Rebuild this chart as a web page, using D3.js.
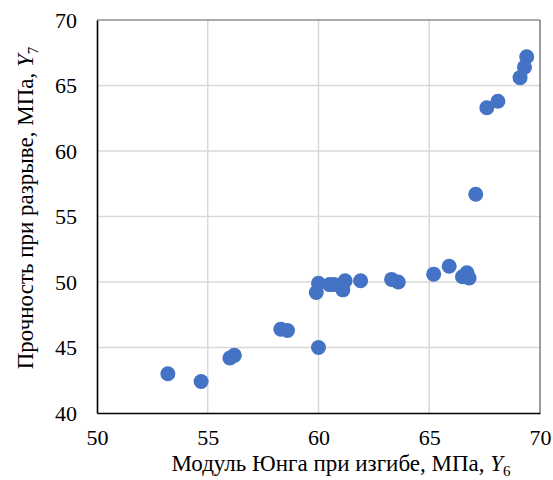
<!DOCTYPE html>
<html>
<head>
<meta charset="utf-8">
<script src="https://d3js.org/d3.v7.min.js"></script>
<style>
  body { margin: 0; background: #fff; }
  svg text { font-family: "Liberation Serif", "DejaVu Serif", serif !important; fill: #000; }
</style>
</head>
<body>
<div id="chart"></div>
<script>
// Data
const youngModulus = [53.2, 54.7, 56.0, 56.2, 58.3, 58.6, 60.0, 59.9, 60.0, 60.5, 60.7, 61.2, 61.1, 61.9,
  63.3, 63.6, 65.2, 65.9, 66.5, 66.7, 66.8, 67.1, 69.4, 69.3, 69.1, 68.1, 67.6];
const strength = [43.0, 42.4, 44.2, 44.4, 46.4, 46.3, 45.0, 49.2, 49.9, 49.8, 49.8, 50.1, 49.4, 50.1,
  50.2, 50.0, 50.6, 51.2, 50.4, 50.7, 50.3, 56.7, 67.2, 66.4, 65.6, 63.8, 63.3];
const xTicks = [50, 55, 60, 65, 70];
const yTicks = [40, 45, 50, 55, 60, 65, 70];

const width = 553, height = 480;
const margin = { top: 20, right: 13, bottom: 67, left: 97 };

const svg = d3.select("#chart").append("svg")
  .attr("width", width)
  .attr("height", height);

const x = d3.scaleLinear().domain([50, 70]).range([margin.left, width - margin.right]);
const y = d3.scaleLinear().domain([40, 70]).range([height - margin.bottom, margin.top]);

// gridlines
svg.append("g")
  .selectAll("line")
  .data(xTicks.slice(1, -1))
  .join("line")
  .attr("x1", d => x(d)).attr("x2", d => x(d))
  .attr("y1", y(40)).attr("y2", y(70))
  .attr("stroke", "#d9d9d9").attr("stroke-width", 1.5);

svg.append("g")
  .selectAll("line")
  .data(yTicks.slice(1, -1))
  .join("line")
  .attr("x1", x(50)).attr("x2", x(70))
  .attr("y1", d => y(d)).attr("y2", d => y(d))
  .attr("stroke", "#d9d9d9").attr("stroke-width", 1.5);

// plot frame (top/right grey)
svg.append("line")
  .attr("x1", x(50)).attr("x2", x(70)).attr("y1", y(70)).attr("y2", y(70))
  .attr("stroke", "#595959").attr("stroke-width", 1.2);
svg.append("line")
  .attr("x1", x(70)).attr("x2", x(70)).attr("y1", y(70)).attr("y2", y(40))
  .attr("stroke", "#595959").attr("stroke-width", 1.2);

// points
svg.append("g")
  .selectAll("circle")
  .data(youngModulus.map((v, i) => [v, strength[i]]))
  .join("circle")
  .attr("cx", d => x(d[0]))
  .attr("cy", d => y(d[1]))
  .attr("r", 7.5)
  .attr("fill", "#4472c4");

// axes
const xAxis = svg.append("g")
  .attr("transform", `translate(0,${y(40)})`)
  .call(d3.axisBottom(x).tickValues(xTicks).tickSize(0).tickPadding(16));
xAxis.select(".domain").attr("stroke", "#000").attr("stroke-width", 1.6);
xAxis.selectAll("text").style("font-size", "22px");

const yAxis = svg.append("g")
  .attr("transform", `translate(${x(50)},0)`)
  .call(d3.axisLeft(y).tickValues(yTicks).tickSize(0).tickPadding(20));
yAxis.select(".domain").attr("stroke", "#000").attr("stroke-width", 1.6);
yAxis.selectAll("text").style("font-size", "22px");

// axis titles
const xt = svg.append("text")
  .attr("x", 341)
  .attr("y", 471)
  .attr("text-anchor", "middle")
  .style("font-size", "23px");
xt.append("tspan").text("Модуль Юнга при изгибе, МПа, ");
xt.append("tspan").style("font-style", "italic").text("Y");
xt.append("tspan").attr("dy", 5).style("font-size", "15px").text("6");

const yt = svg.append("text")
  .attr("transform", `translate(33,208) rotate(-90)`)
  .attr("text-anchor", "middle")
  .style("font-size", "23px");
yt.append("tspan").text("Прочность при разрыве, МПа, ");
yt.append("tspan").style("font-style", "italic").text("Y");
yt.append("tspan").attr("dy", 5).style("font-size", "15px").text("7");
</script>
</body>
</html>
